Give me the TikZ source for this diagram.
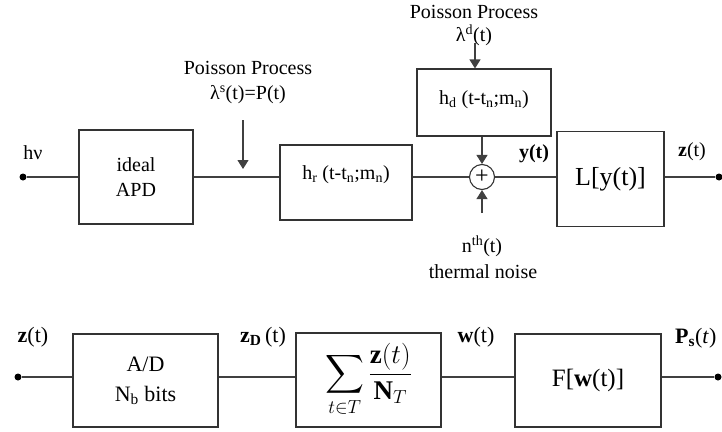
\documentclass[tikz,border=0pt]{standalone}
\usepackage{fix-cm}
\usepackage{amsmath,amsfonts}
\usepackage{fontspec}
\setmainfont{Liberation Serif}
\usetikzlibrary{positioning, arrows.meta}

\begin{document}
\begin{tikzpicture}[x=1pt, y=-1pt,
    % --- Styles ---
    block/.style={
        rectangle,
        draw=black!80,
        fill=white,
        line width=1.1pt,
        align=center,
        inner sep=0pt,
        font=\fontsize{22}{30}\selectfont
    },
    tag/.style={
        align=center,
        inner sep=1pt,
        font=\fontsize{20}{25}\selectfont
    },
    line/.style={
        draw=black!75,
        line width=1.1pt
    },
    arrow/.style={
        line,
        -{Triangle[length=9pt, width=11pt]}
    },
    dot/.style={circle, fill=black, inner sep=0pt, minimum size=7pt},
    adder/.style={
        circle,
        draw=black!80,
        line width=1.1pt,
        minimum size=25pt,
        inner sep=0pt,
        font=\fontsize{24}{24}\selectfont
    }
]
\useasboundingbox (0,0) rectangle (722,431);

% --- Nodes: receiver ---
\node[dot] (in) at (23,177) {};
\node[tag] (hnu) at (33,153) {hν};
\node[block, minimum width=114pt, minimum height=94pt, font=\fontsize{20}{25}\selectfont] (apd) at (136,177) {ideal\\APD};

\node[tag] (pois1) at (248,68) {Poisson Process};
\node[tag] (lams) at (248,95) {λ\textsuperscript{s}(t)=P(t)};
\coordinate (s0) at (243,120);
\coordinate (s1) at (243,169);

\node[block, minimum width=132pt, minimum height=75pt, text height=14pt, text depth=21pt,
    font=\fontsize{20}{25}\selectfont] (hr) at (346,182.5) {h\textsubscript{r} (t-t\textsubscript{n};m\textsubscript{n})};

\node[adder] (add) at (482,177) {+};

\node[tag] (pois2) at (474,12) {Poisson Process};
\node[tag] (lamd) at (474,35) {λ\textsuperscript{d}(t)};
\coordinate (d0) at (475,43);
\node[block, minimum width=134pt, minimum height=67pt, text height=14pt, text depth=11pt,
    font=\fontsize{20}{25}\selectfont] (hd) at (484,102.5) {h\textsubscript{d} (t-t\textsubscript{n};m\textsubscript{n})};

\coordinate (n0) at (482,213);
\node[tag] (nth) at (482,246) {n\textsuperscript{th}(t)};
\node[tag] (therm) at (483,272) {thermal noise};

\node[tag] (yt) at (534,154) {\textbf{y(t)}};
\node[block, minimum width=107pt, minimum height=95pt, font=\fontsize{26}{30}\selectfont] (lbox) at (610.5,179) {L[y(t)]};
\node[tag] (zt) at (692,152) {\textbf{z}(t)};
\node[dot] (out) at (719,177) {};

% --- Nodes: estimator ---
\node[dot] (inb) at (18,377) {};
\node[tag, font=\fontsize{22}{25}\selectfont] (ztb) at (33,337) {\textbf{z}(t)};
\node[block, minimum width=145pt, minimum height=93pt] (ad) at (145.5,380.5) {A/D\\N\textsubscript{b} bits};
\node[tag, font=\fontsize{22}{25}\selectfont] (zd) at (263,337) {\textbf{z\textsubscript{D}}\,(t)};
\node[block, minimum width=145pt, minimum height=94pt, font=\fontsize{27}{30}\selectfont] (avg) at (368.5,380)
    {$\displaystyle\sum_{t\in T}\frac{\mathbf{z}(t)}{\mathbf{N}_{T}}$};
\node[tag, font=\fontsize{22}{25}\selectfont] (wt) at (476,337) {\textbf{w}(t)};
\node[block, minimum width=146pt, minimum height=93pt, font=\fontsize{25}{30}\selectfont] (fbox) at (588,380.5) {F[\textbf{w}(t)]};
\node[tag, anchor=west, font=\fontsize{22}{25}\selectfont] (ps) at (674,338) {\textbf{P\textsubscript{s}}(\textit{t})};
\node[dot] (outb) at (718,377) {};

% --- Connections ---
\draw[line] (in) -- (apd);
\draw[line] (apd) -- (apd.east -| hr.west);
\draw[line] (hr.east |- add) -- (add);
\draw[line] (add) -- (add -| lbox.west);
\draw[line] (lbox.east |- out) -- (out);
\draw[arrow] (s0) -- (s1);
\draw[arrow] (d0) -- (d0 |- hd.north);
\draw[arrow] (hd.south -| add) -- (add);
\draw[arrow] (n0) -- (add);

\draw[line] (inb) -- (inb -| ad.west);
\draw[line] (ad.east |- inb) -- (inb -| avg.west);
\draw[line] (avg.east |- inb) -- (inb -| fbox.west);
\draw[line] (fbox.east |- outb) -- (outb);
\end{tikzpicture}
\end{document}
